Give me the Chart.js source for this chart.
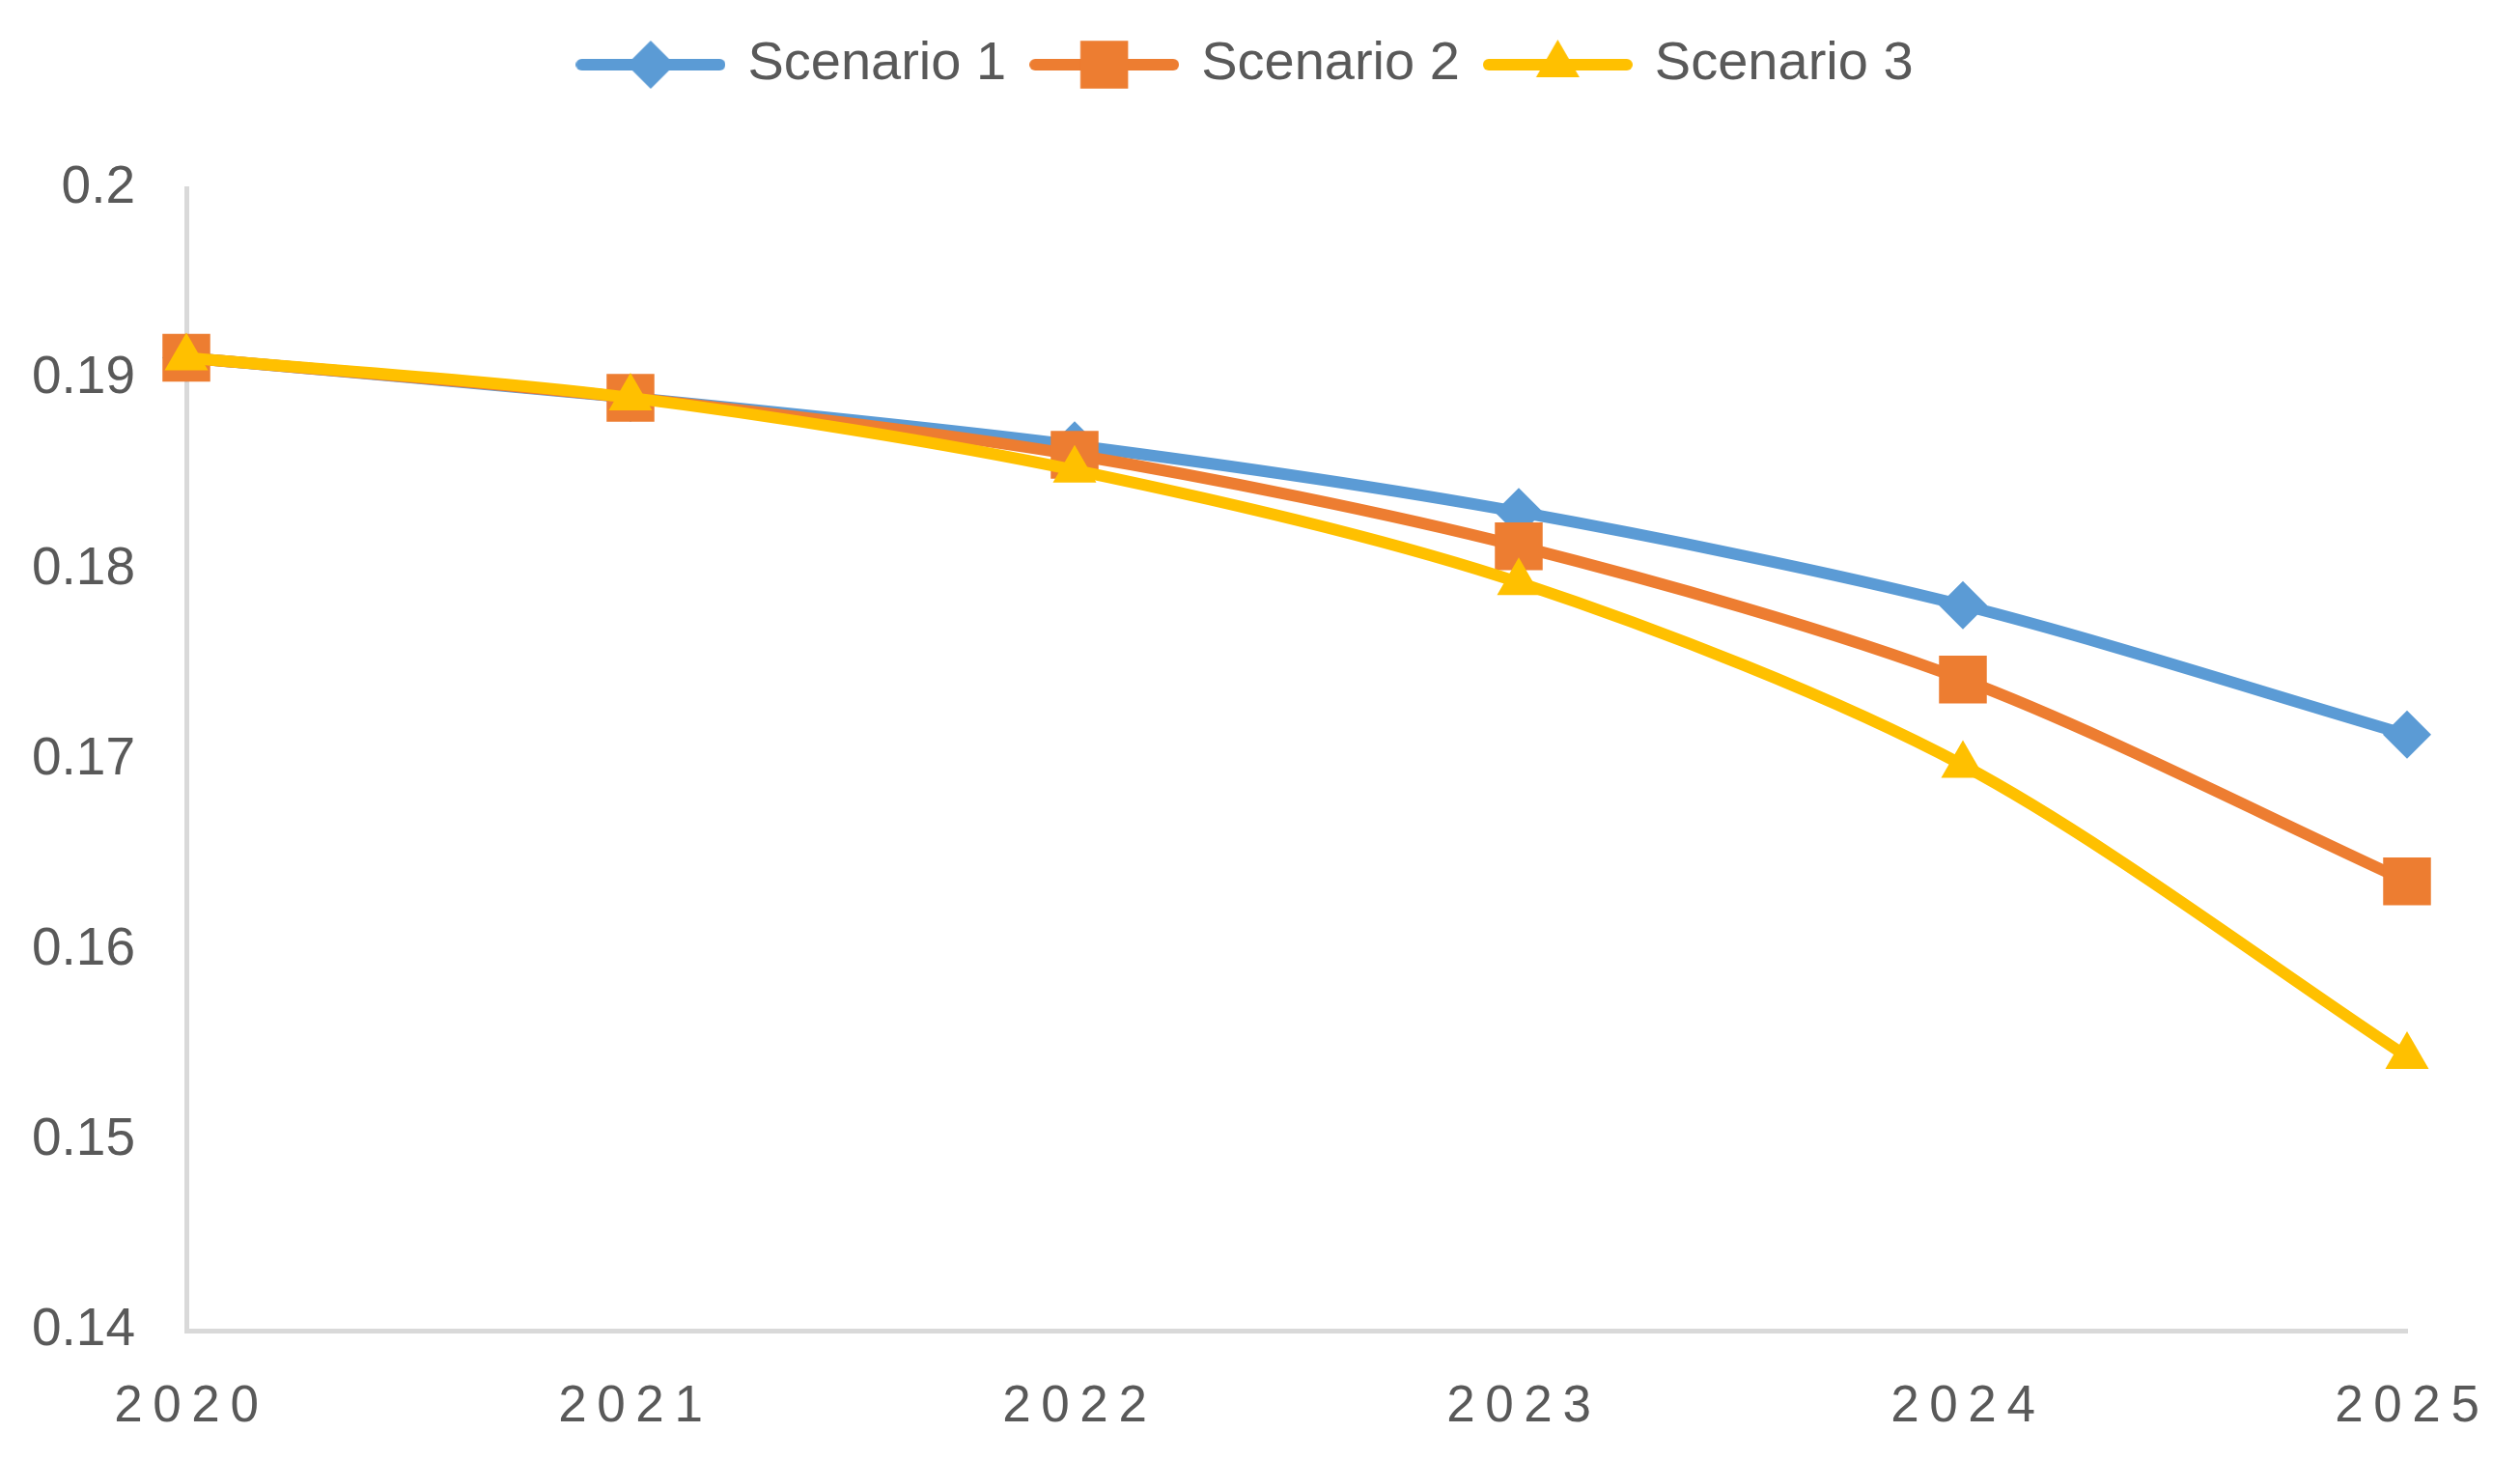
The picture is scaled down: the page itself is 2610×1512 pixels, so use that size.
<!DOCTYPE html>
<html lang="en">
<head>
<meta charset="UTF-8">
<title>Scenarios</title>
<style>
  body { margin: 0; padding: 0; background: #fff; }
  #wrap { width: 2610px; height: 1512px; }
</style>
</head>
<body>
<div id="wrap"><canvas id="chart"></canvas></div>
<script src="https://cdn.jsdelivr.net/npm/chart.js@4/dist/chart.umd.min.js"></script>
<script>
  // data
  var years = ['2020', '2021', '2022', '2023', '2024', '2025'];
  var scenario1 = [0.1911, 0.1890, 0.1865, 0.1830, 0.1781, 0.1713];
  var scenario2 = [0.1911, 0.1890, 0.1860, 0.1812, 0.1742, 0.1636];
  var scenario3 = [0.1911, 0.1890, 0.1852, 0.1793, 0.1697, 0.1544];
  var seriesNames = ['Scenario 1', 'Scenario 2', 'Scenario 3'];
  var yTickLabels = ['0.14', '0.15', '0.16', '0.17', '0.18', '0.19', '0.2'];

  var textColor = '#595959';
  var axisColor = '#d9d9d9';
  var font = "'Liberation Sans', Arial, sans-serif";

  function series(label, data, color, style, radius, order) {
    return {
      label: label,
      data: data,
      borderColor: color,
      backgroundColor: color,
      borderWidth: 12,
      tension: 0.3,
      pointStyle: style,
      pointRadius: radius,
      pointHoverRadius: radius,
      pointBorderWidth: 0,
      pointBackgroundColor: color,
      clip: false,
      order: order
    };
  }

  // legend icon: line with the marker in the middle
  function legendIcon(ds) {
    var c = document.createElement('canvas');
    c.width = 155;
    c.height = 64;
    var g = c.getContext('2d');
    g.strokeStyle = ds.borderColor;
    g.lineWidth = 12;
    g.lineCap = 'round';
    g.beginPath();
    g.moveTo(6, 32);
    g.lineTo(149, 32);
    g.stroke();
    g.fillStyle = ds.borderColor;
    Chart.helpers.drawPoint(g, { pointStyle: ds.pointStyle, radius: ds.pointRadius, rotation: 0, borderWidth: 0 }, 77.5, 32);
    return c;
  }

  var ctx = document.getElementById('chart').getContext('2d');
  var chart = new Chart(ctx, {
    type: 'line',
    data: {
      labels: years,
      datasets: [
        series(seriesNames[0], scenario1, '#5B9BD5', 'rectRot', 25, 3),
        series(seriesNames[1], scenario2, '#ED7D31', 'rect', 35, 2),
        series(seriesNames[2], scenario3, '#FFC000', 'triangle', 26, 1)
      ]
    },
    options: {
      responsive: true,
      maintainAspectRatio: false,
      animation: false,
      layout: { padding: { top: 10, left: 0, right: 27, bottom: 0 } },
      plugins: {
        tooltip: { enabled: false },
        legend: {
          position: 'top',
          labels: {
            usePointStyle: true,
            pointStyleWidth: 145,
            padding: 29,
            color: textColor,
            font: { family: font, size: 56 },
            generateLabels: function(chart) {
              return chart.data.datasets.map(function(ds, i) {
                return {
                  text: ds.label,
                  pointStyle: legendIcon(ds),
                  fillStyle: ds.borderColor,
                  strokeStyle: ds.borderColor,
                  lineWidth: 0,
                  fontColor: textColor,
                  hidden: false,
                  datasetIndex: i
                };
              });
            }
          }
        },
        // empty title used as a spacer between legend and plot
        title: {
          display: true,
          text: ' ',
          weight: 500,
          font: { size: 10, lineHeight: 1 },
          padding: { top: 40, bottom: 40 }
        }
      },
      scales: {
        x: {
          grid: { display: false },
          border: { display: true, color: axisColor, width: 5 },
          ticks: {
            color: textColor,
            font: { family: font, size: 53 },
            padding: 40,
            maxRotation: 0,
            callback: function(v, i) {
              return years[i].split('').join('\u2009');
            }
          },
          afterFit: function(scale) { scale.height = 134; }
        },
        y: {
          min: 0.14,
          max: 0.2,
          grid: { display: false },
          border: { display: true, color: axisColor, width: 5 },
          ticks: {
            stepSize: 0.01,
            color: textColor,
            font: { family: font, size: 55 },
            padding: 45,
            callback: function(v, i) { return yTickLabels[i]; }
          },
          afterFit: function(scale) { scale.width = 193; }
        },
        // empty right axis, only keeps space on the right
        yRight: {
          position: 'right',
          display: true,
          grid: { display: false },
          border: { display: false },
          ticks: { display: false },
          afterFit: function(scale) { scale.width = 90; }
        }
      }
    }
  });
</script>
</body>
</html>
